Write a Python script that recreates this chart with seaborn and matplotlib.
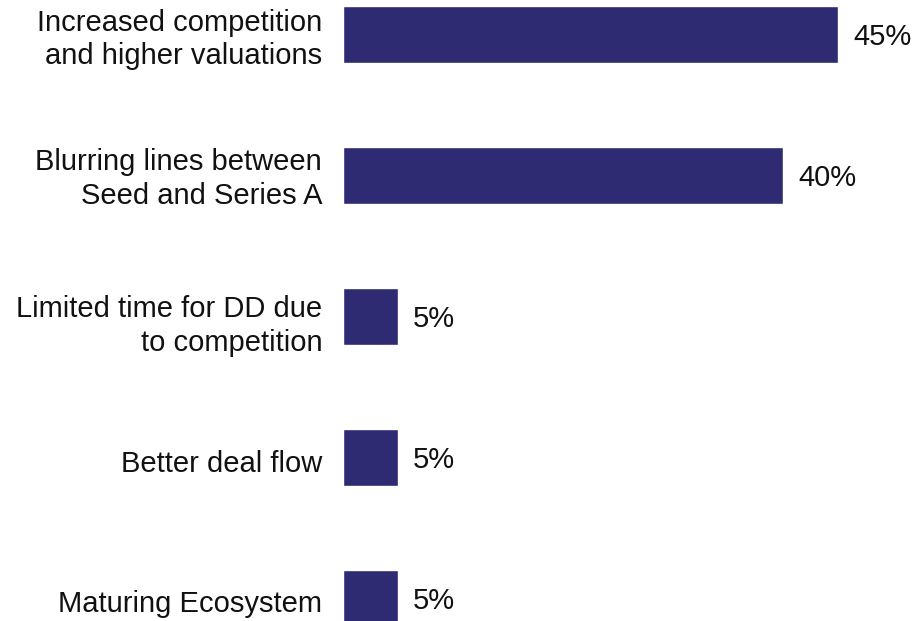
import matplotlib
matplotlib.use("Agg")
import matplotlib.pyplot as plt
import matplotlib.transforms as mtransforms
import seaborn as sns
import pandas as pd

categories = [
    "Increased competition\nand higher valuations",
    "Blurring lines between\nSeed and Series A",
    "Limited time for DD due\nto competition",
    "Better deal flow",
    "Maturing Ecosystem",
]
shares = [45, 40, 5, 5, 5]
value_labels = [f"{v}%" for v in shares]

sns.set_theme(style="white")
plt.rcParams["font.family"] = ["Liberation Sans", "DejaVu Sans"]

df = pd.DataFrame({"reason": categories, "share": shares})

fig = plt.figure(figsize=(9.19, 6.21), dpi=100)
ax = fig.add_axes([343 / 919, 0, 1 - 343 / 919, 1])

sns.barplot(data=df, x="share", y="reason", orient="h", color="#2E2B73",
            width=0.404, saturation=1, ax=ax)

ax.set_xlim(0, (919 - 343) / 11)
ax.set_ylim(4.16, -0.245)
anns = ax.bar_label(ax.containers[0], labels=value_labels, padding=11,
                    fontsize=21, color="#111111")
for a in anns:
    a.xyann = (11, -1.5)

ax.set_xlabel("")
ax.set_ylabel("")
ax.set_xticks([])
ax.tick_params(axis="y", length=0, pad=15, labelsize=21, labelcolor="#111111")

# small vertical nudges (pixels, downward) for the category labels
nudges = [-1, -2.5, 4, 4, 3]
for lbl, dy in zip(ax.get_yticklabels(), nudges):
    lbl.set_multialignment("right")
    lbl.set_linespacing(1.25)
    shift = mtransforms.ScaledTranslation(0, -dy / 100, fig.dpi_scale_trans)
    lbl.set_transform(lbl.get_transform() + shift)
for s in ax.spines.values():
    s.set_visible(False)

fig.savefig("out.png", dpi=100)
